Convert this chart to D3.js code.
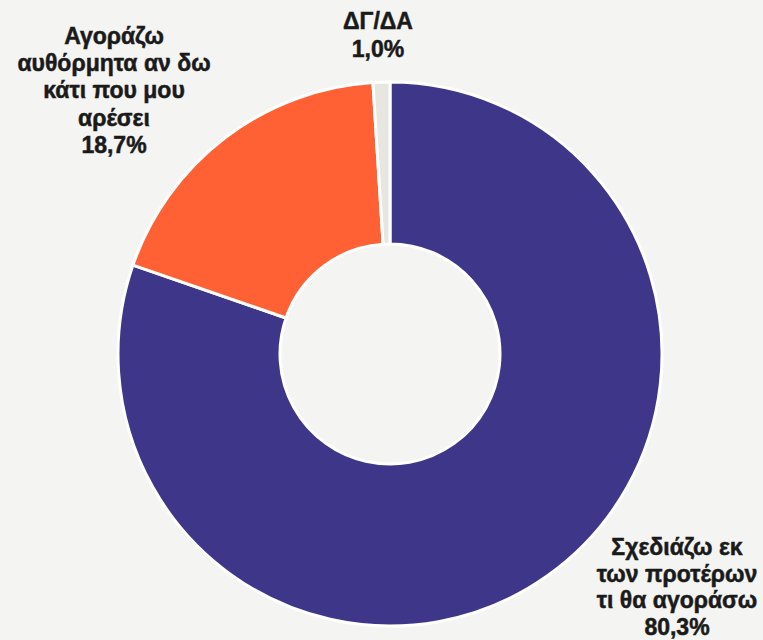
<!DOCTYPE html>
<html>
<head>
<meta charset="utf-8">
<script src="https://cdn.jsdelivr.net/npm/d3@7"></script>
<style>
  html, body { margin: 0; padding: 0; background: #f4f4f2; }
  svg { display: block; }
</style>
</head>
<body>
<svg id="chart" width="763" height="640"></svg>
<script>
// data
var categories = ["Σχεδιάζω εκ των προτέρων τι θα αγοράσω", "Αγοράζω αυθόρμητα αν δω κάτι που μου αρέσει", "ΔΓ/ΔΑ"];
var values = [80.3, 18.7, 1.0];
var valueLabels = ["80,3%", "18,7%", "1,0%"];
var labelLines = [
    ["Σχεδιάζω εκ", "των προτέρων", "τι θα αγοράσω"],
    ["Αγοράζω", "αυθόρμητα αν δω", "κάτι που μου", "αρέσει"],
    ["ΔΓ/ΔΑ"]
];
var colors = ["#3e3789", "#ff6134", "#e8e6e0"];

var svg = d3.select("#chart");
var cx = 390, cy = 354;
var outerR = 272, innerR = 110;

var pie = d3.pie().sort(null).value(function (d) { return d; });
var arc = d3.arc().innerRadius(innerR).outerRadius(outerR);

var g = svg.append("g").attr("transform", "translate(" + cx + "," + cy + ")");

g.selectAll(".slice").data(pie(values)).enter().append("path")
    .attr("class", "slice")
    .attr("d", arc)
    .attr("fill", function (d, i) { return colors[i]; })
    .attr("stroke", "#ffffff")
    .attr("stroke-width", 3)
    .attr("stroke-linejoin", "round");

//label positions (center x, first baseline) picked by eye
var labelPos = [
    { x: 677, y: 555, step: 26.5 },
    { x: 114, y: 44, step: 27.2 },
    { x: 378, y: 29, step: 27.5 }
];

categories.forEach(function (c, i) {
    var lines = labelLines[i].concat([valueLabels[i]]);
    var t = svg.append("text")
        .attr("text-anchor", "middle")
        .style("font-family", "Arial, 'Liberation Sans', sans-serif")
        .style("font-size", "23px")
        .style("font-weight", "bold")
        .attr("fill", "#1a1a1a")
        .attr("stroke", "#1a1a1a")
        .attr("stroke-width", 0.5);
    lines.forEach(function (l, j) {
        t.append("tspan")
            .attr("x", labelPos[i].x)
            .attr("y", labelPos[i].y + j * labelPos[i].step)
            .text(l);
    });
});
</script>
</body>
</html>
